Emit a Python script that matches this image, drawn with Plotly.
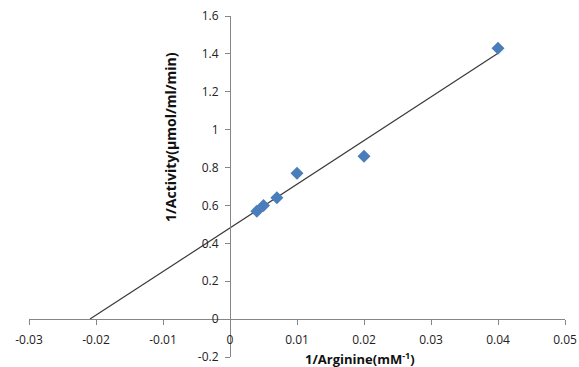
import numpy as np
import plotly.graph_objects as go

arginine_inv = [0.004, 0.005, 0.007, 0.010, 0.020, 0.040]
activity_inv = [0.57, 0.60, 0.64, 0.77, 0.86, 1.43]

x_ticks = [-0.03, -0.02, -0.01, 0, 0.01, 0.02, 0.03, 0.04, 0.05]
x_tick_text = ["-0.03", "-0.02", "-0.01", "0", "0.01", "0.02", "0.03", "0.04", "0.05"]
y_ticks = [-0.2, 0, 0.2, 0.4, 0.6, 0.8, 1, 1.2, 1.4, 1.6]
y_tick_text = ["-0.2", "0", "0.2", "0.4", "0.6", "0.8", "1", "1.2", "1.4", "1.6"]

slope, intercept = np.polyfit(arginine_inv, activity_inv, 1)
x0 = -intercept / slope
trend_x = [x0, max(arginine_inv)]
trend_y = [slope * v + intercept for v in trend_x]

xr = [-0.03, 0.05]
yr = [-0.2, 1.6]

fig = go.Figure()
fig.add_trace(go.Scatter(x=trend_x, y=trend_y, mode="lines",
                         line=dict(color="#3a3a3a", width=1.2), showlegend=False))
fig.add_trace(go.Scatter(x=arginine_inv, y=activity_inv, mode="markers",
                         marker=dict(symbol="diamond", size=10, color="#4a7ebb"),
                         showlegend=False))

fam = "Open Sans, Liberation Sans, sans-serif"
axis_font = dict(family=fam, size=12, color="#222222")

fig.update_layout(
    width=579, height=367,
    margin=dict(l=29, r=14, t=16, b=10, autoexpand=False),
    paper_bgcolor="white", plot_bgcolor="white",
    xaxis=dict(range=xr, tickvals=x_ticks, ticktext=x_tick_text, showgrid=False,
               zeroline=False, showline=True, linecolor="#868686", linewidth=1,
               ticks="outside", ticklen=5, tickcolor="#868686", automargin=False,
               anchor="free", position=(0 - yr[0]) / (yr[1] - yr[0]),
               tickfont=axis_font, ticklabeloverflow="allow", ticklabelstandoff=4),
    yaxis=dict(range=yr, tickvals=y_ticks, ticktext=y_tick_text, showgrid=False,
               zeroline=False, showline=True, linecolor="#868686", linewidth=1,
               ticks="outside", ticklen=5, tickcolor="#868686", automargin=False,
               anchor="free", position=(0 - xr[0]) / (xr[1] - xr[0]),
               tickfont=axis_font, ticklabeloverflow="allow", ticklabelstandoff=4),
    annotations=[
        dict(text="<b>1/Activity(μmol/ml/min)</b>", x=0, y=0, xref="paper", yref="paper",
             xanchor="center", yanchor="middle", textangle=-90, showarrow=False,
             xshift=170 - 29, yshift=(367 - 10) - 137,
             font=dict(family=fam, size=14, color="#111111")),
        dict(text="<b>1/Arginine(mM<sup>-1</sup>)</b>", x=0, y=0, xref="paper", yref="paper",
             xanchor="center", yanchor="middle", showarrow=False,
             xshift=360 - 29, yshift=(367 - 10) - 358,
             font=dict(family=fam, size=13, color="#111111")),
    ],
)
fig.write_html("out.html")
